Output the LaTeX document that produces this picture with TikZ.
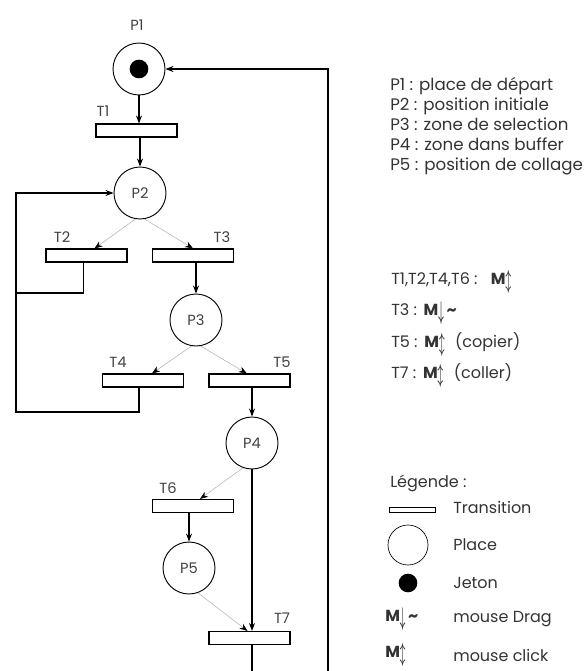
\documentclass[tikz,border=0pt]{standalone}
\usepackage{fontspec}
\setmainfont{Poppins}
\usetikzlibrary{arrows.meta}
\newcommand{\mclick}{\textbf{M}\raisebox{-2pt}{\scalebox{0.6}[1.4]{$\boldsymbol{\updownarrow}$}}}
\newcommand{\mdrag}{\textbf{M}\raisebox{-3pt}{\scalebox{0.6}[1.6]{$\boldsymbol{\downarrow}$}}\,\textbf{\textasciitilde}}
\usepackage{amsmath,bm}

\begin{document}
\begin{tikzpicture}[x=0.75pt,y=-0.75pt,
    place/.style={circle, draw, line width=0.7pt, minimum size=39pt, inner sep=0pt, font=\fontsize{11}{12}\selectfont, text=black!75},
    trans/.style={rectangle, draw, line width=0.8pt, minimum width=60.75pt, minimum height=9.75pt, inner sep=0pt},
    token/.style={circle, fill=black, minimum size=14pt, inner sep=0pt},
    lbl/.style={font=\fontsize{11}{12}\selectfont, text=black!75},
    flow/.style={line width=0.8pt, -{Stealth[length=6pt,width=4.5pt]}},
    branch/.style={line width=0.4pt, draw=black!30, -{Stealth[length=6pt,width=4.5pt,color=black]}},
    txt/.style={anchor=west, inner sep=0pt, font=\fontsize{12}{13}\selectfont, text=black!80}]

    \clip (0,0) rectangle (587,671);

    % places
    \node[place] (P1) at (139,69) {};
    \node[token] (tok) at (P1) {};
    \node[place] (P2) at (140,193) {P2};
    \node[place] (P3) at (196,320) {P3};
    \node[place] (P4) at (252,443) {P4};
    \node[place] (P5) at (189,568) {P5};
    \node[lbl] (lP1) at (137,25) {P1};

    % transitions
    \node[trans] (T1) at (136.5,130.5) {};
    \node[trans] (T2) at (86.5,255.5) {};
    \node[trans] (T3) at (193,255.5) {};
    \node[trans] (T4) at (143,380.5) {};
    \node[trans] (T5) at (249.5,380.5) {};
    \node[trans] (T6) at (193,506) {};
    \node[trans] (T7) at (249.5,638) {};
    \node[lbl] (lT1) at (103,111) {T1};
    \node[lbl] (lT2) at (62,237) {T2};
    \node[lbl] (lT3) at (222,237) {T3};
    \node[lbl] (lT4) at (118,362) {T4};
    \node[lbl] (lT5) at (282,362) {T5};
    \node[lbl] (lT6) at (168,488) {T6};
    \node[lbl] (lT7) at (282,618) {T7};

    % arcs
    \draw[flow] (P1.south) -- (P1.south |- T1.north);
    \draw[flow] (P2.north |- T1.south) -- (P2.north);
    \draw[branch] (P2.260) -- ([xshift=6pt]T2.north);
    \draw[branch] (P2.280) -- (T3.north);
    \draw[flow] (T3.south -| P3.north) -- (P3.north);
    \draw[branch] (P3.260) -- ([xshift=6.75pt]T4.north);
    \draw[branch] (P3.280) -- ([xshift=-2pt]T5.north);
    \draw[flow] (T5.south -| P4.north) -- (P4.north);
    \draw[branch] (P4.250) -- ([xshift=5.25pt]T6.north);
    \draw[flow] (T6.south -| P5.north) -- (P5.north);
    \draw[branch] (P5.290) -- ([xshift=-1.5pt]T7.north);
    \draw[flow] (P4.south) -- (P4.south |- T7.north);

    % boucles
    \coordinate (bendT2) at (16,293);
    \coordinate (bendT4) at (16,412);
    \coordinate (retBR) at (328,700);
    \draw[line width=0.8pt] ([xshift=-2pt]T2.south) |- (bendT2);
    \draw[flow] ([xshift=-3pt]T4.south) |- (bendT4) |- (P2.west);
    \draw[flow] (P4.south |- T7.south) |- (retBR) |- (P1.east);

    % places : description
    \node[txt, anchor=north west, align=left, font=\fontsize{12.5}{15}\selectfont] (dP) at (390,77) {P1 : place de départ\\P2 : position initiale\\P3 : zone de selection\\P4 : zone dans buffer\\P5 : position de collage};

    % transitions : description
    \node[txt] (dT1) at (391,282) {T1,T2,T4,T6 :\hspace{10pt}\mclick};
    \node[txt] (dT3) at (391,313) {T3 :\hspace{5pt}\mdrag};
    \node[txt] (dT5) at (391,344) {T5 :\hspace{5pt}\mclick\hspace{8pt}(copier)};
    \node[txt] (dT7) at (391,375) {T7 :\hspace{5pt}\mclick\hspace{8pt}(coller)};

    % legende
    \node[txt] (leg) at (390,483) {Légende :};
    \node[rectangle, draw, line width=0.6pt, minimum width=34.5pt, minimum height=3.75pt, inner sep=0pt] (legT) at (412,509.5) {};
    \node[circle, draw, line width=0.5pt, minimum size=30pt, inner sep=0pt] (legP) at (408,545) {};
    \node[token] (legJ) at (408,583) {};
    \node[txt] (legM1) at (385,619) {\mdrag};
    \node[txt] (legM2) at (385,655) {\mclick};
    \node[txt] (tT) at (453,507) {Transition};
    \node[txt] (tP) at (453,545) {Place};
    \node[txt] (tJ) at (453,583) {Jeton};
    \node[txt] (tD) at (453,619) {mouse Drag};
    \node[txt] (tC) at (453,655) {mouse click};
\end{tikzpicture}
\end{document}
